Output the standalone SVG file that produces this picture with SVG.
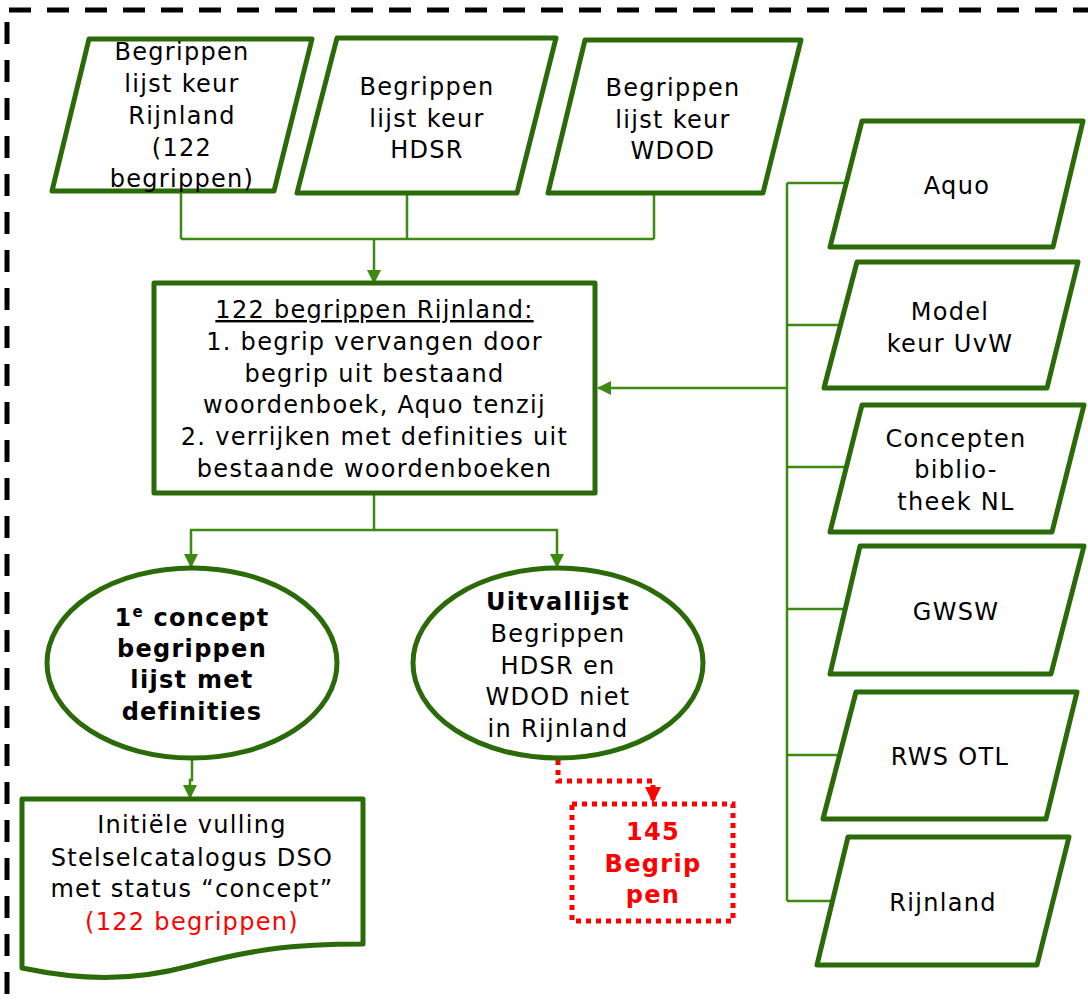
<svg xmlns="http://www.w3.org/2000/svg" width="1088" height="1002" viewBox="0 0 1088 1002">
<style>
.shape{fill:#fff;stroke:#2b6a09;stroke-width:5;stroke-linejoin:round}
.conn{fill:none;stroke:#3c8a12;stroke-width:2.5}
.red{fill:none;stroke:#ff0000;stroke-width:5;stroke-dasharray:5 5}
text{font-family:"DejaVu Sans","Verdana",sans-serif;font-size:24px;letter-spacing:1.3px;fill:#000;text-anchor:middle}
.b{font-weight:bold}
.rt{fill:#ff0000}
</style>
<defs>
<marker id="ag" markerWidth="14" markerHeight="14" refX="13" refY="7" orient="auto" markerUnits="userSpaceOnUse">
<path d="M0,0 L14,7 L0,14 Z" fill="#3c8a12"/>
</marker>
<marker id="ar" markerWidth="16" markerHeight="16" refX="15" refY="8" orient="auto" markerUnits="userSpaceOnUse">
<path d="M0,0 L16,8 L0,16 Z" fill="#ff0000"/>
</marker>
</defs>
<rect width="1088" height="1002" fill="#fff"/>
<g id="border" stroke="#000" stroke-width="5" stroke-dasharray="22 16" fill="none">
<line x1="9" y1="10" x2="1088" y2="10"/>
<line x1="7" y1="22" x2="7" y2="1002"/>
</g>
<g id="connectors">
<path class="conn" d="M181,191 V239 M407,193 V239 M654,193 V239 M181,239 H654"/>
<path class="conn" d="M374,239 V283" marker-end="url(#ag)"/>
<path class="conn" d="M787,183 V901 M787,183 H846 M787,325 H840 M787,467 H846 M787,609 H846 M787,755 H840 M787,901 H833"/>
<path class="conn" d="M787,388 H598" marker-end="url(#ag)"/>
<path class="conn" d="M374,493 V530 H191 V567" marker-end="url(#ag)"/>
<path class="conn" d="M374,530 H557 V567" marker-end="url(#ag)"/>
<path class="conn" d="M192,758 V780 H190 V798" marker-end="url(#ag)"/>
<path class="red" d="M558,760 V781 H653 V802" marker-end="url(#ar)"/>
</g>
<g id="n-rijnland-top">
<polygon class="shape" points="89,39 312,39 274,191 52,191"/>
<text x="182" y="60">Begrippen</text>
<text x="182" y="92">lijst keur</text>
<text x="182" y="124">Rijnland</text>
<text x="182" y="156">(122</text>
<text x="182" y="187">begrippen)</text>
</g>
<g id="n-hdsr">
<polygon class="shape" points="337,38 556,38 517,193 297,193"/>
<text x="427" y="95">Begrippen</text>
<text x="427" y="127">lijst keur</text>
<text x="427" y="158">HDSR</text>
</g>
<g id="n-wdod">
<polygon class="shape" points="585,40 801,40 763,193 548,193"/>
<text x="673" y="96">Begrippen</text>
<text x="673" y="128">lijst keur</text>
<text x="673" y="159">WDOD</text>
</g>
<g id="n-main">
<rect class="shape" x="154" y="283" width="441" height="210"/>
<text x="374.5" y="318" text-decoration="underline">122 begrippen Rijnland:</text>
<text x="374.5" y="350">1. begrip vervangen door</text>
<text x="374.5" y="382">begrip uit bestaand</text>
<text x="374.5" y="413">woordenboek, Aquo tenzij</text>
<text x="374.5" y="445">2. verrijken met definities uit</text>
<text x="374.5" y="477">bestaande woordenboeken</text>
</g>
<g id="n-aquo">
<polygon class="shape" points="862,121 1083,121 1053,247 830,247"/>
<text x="957" y="194">Aquo</text>
</g>
<g id="n-model">
<polygon class="shape" points="857,262 1078,262 1047,388 824,388"/>
<text x="950" y="320">Model</text>
<text x="950" y="352">keur UvW</text>
</g>
<g id="n-concepten">
<polygon class="shape" points="862,405 1084,405 1052,532 830,532"/>
<text x="956" y="447">Concepten</text>
<text x="956" y="478">biblio-</text>
<text x="956" y="510">theek NL</text>
</g>
<g id="n-gwsw">
<polygon class="shape" points="860,546 1084,546 1051,674 830,674"/>
<text x="956" y="620">GWSW</text>
</g>
<g id="n-rws">
<polygon class="shape" points="856,692 1077,692 1046,819 823,819"/>
<text x="950" y="765">RWS OTL</text>
</g>
<g id="n-rijnland-right">
<polygon class="shape" points="848,837 1069,837 1037,965 817,965"/>
<text x="943" y="911">Rijnland</text>
</g>
<g id="n-concept">
<ellipse class="shape" cx="192" cy="663" rx="145" ry="95"/>
<text class="b" x="192" y="626">1<tspan font-size="15" baseline-shift="super">e</tspan> concept</text>
<text class="b" x="192" y="657">begrippen</text>
<text class="b" x="192" y="688">lijst met</text>
<text class="b" x="192" y="720">definities</text>
</g>
<g id="n-uitval">
<ellipse class="shape" cx="558" cy="663" rx="145" ry="95"/>
<text class="b" x="558" y="610">Uitvallijst</text>
<text x="558" y="642">Begrippen</text>
<text x="558" y="674">HDSR en</text>
<text x="558" y="705">WDOD niet</text>
<text x="558" y="737">in Rijnland</text>
</g>
<g id="n-document">
<path class="shape" d="M22,799 H363 V944 C290,944 250,950 190,966 C130,982 80,980 22,968 Z"/>
<text x="192" y="833">Initiële vulling</text>
<text x="192" y="866">Stelselcatalogus DSO</text>
<text x="192" y="897">met status “concept”</text>
<text class="rt" x="192" y="930">(122 begrippen)</text>
</g>
<g id="n-145">
<rect class="red" x="572" y="804" width="161" height="117"/>
<text class="b rt" x="653" y="840">145</text>
<text class="b rt" x="653" y="872">Begrip</text>
<text class="b rt" x="653" y="903">pen</text>
</g>
</svg>
